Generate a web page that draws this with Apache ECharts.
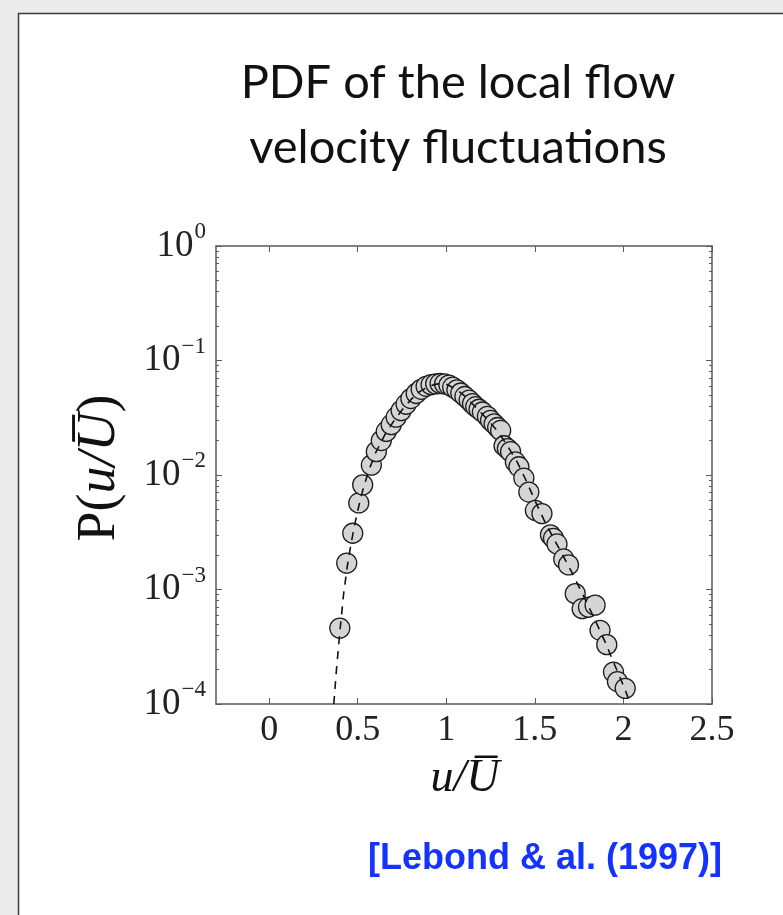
<!DOCTYPE html>
<html>
<head>
<meta charset="utf-8">
<script src="https://cdn.jsdelivr.net/npm/echarts@6/dist/echarts.min.js"></script>
<style>
  html, body { margin: 0; padding: 0; background: #ebebeb; }
  #chart { width: 783px; height: 915px; }
</style>
</head>
<body>
<div id="chart"></div>
<script>
// Measured PDF of the normalised local velocity u / U-bar
const velocityRatio = [
  0.399, 0.438, 0.472, 0.506, 0.528, 0.577, 0.605, 0.633, 0.661, 0.689,
  0.717, 0.745, 0.773, 0.800, 0.830, 0.858, 0.886, 0.914, 0.940, 0.965,
  0.990, 1.015, 1.036, 1.060, 1.082, 1.105, 1.129, 1.148, 1.166, 1.185,
  1.204, 1.232, 1.250, 1.270, 1.290, 1.307, 1.326, 1.345, 1.363, 1.390,
  1.410, 1.438, 1.466, 1.503, 1.540, 1.588, 1.605, 1.625, 1.663, 1.690,
  1.728, 1.767, 1.803, 1.840, 1.868, 1.906, 1.944, 1.966, 2.010
];
const probability = [
  4.6e-4, 1.7e-3, 3.1e-3, 5.7e-3, 8.2e-3, 1.22e-2, 1.6e-2, 2.0e-2, 2.4e-2, 2.75e-2,
  3.2e-2, 3.65e-2, 4.15e-2, 4.65e-2, 5.15e-2, 5.6e-2, 5.95e-2, 6.15e-2, 6.25e-2, 6.3e-2,
  6.25e-2, 6.1e-2, 5.85e-2, 5.55e-2, 5.2e-2, 4.85e-2, 4.5e-2, 4.2e-2, 3.95e-2, 3.75e-2,
  3.55e-2, 3.25e-2, 3.0e-2, 2.8e-2, 2.6e-2, 2.45e-2, 1.8e-2, 1.7e-2, 1.6e-2, 1.3e-2,
  1.18e-2, 9.4e-3, 7.1e-3, 4.9e-3, 4.6e-3, 3.0e-3, 2.8e-3, 2.5e-3, 1.85e-3, 1.64e-3,
  9.2e-4, 6.8e-4, 7.0e-4, 7.3e-4, 4.4e-4, 3.3e-4, 1.9e-4, 1.57e-4, 1.37e-4
];

// Fitted distribution (dashed curve)
const fitRatio = [
  0.365, 0.38, 0.40, 0.42, 0.44, 0.46, 0.48, 0.50, 0.53, 0.56,
  0.60, 0.65, 0.70, 0.75, 0.80, 0.85, 0.90, 0.95, 1.00, 1.05,
  1.10, 1.15, 1.20, 1.25, 1.30, 1.35, 1.40, 1.45, 1.50, 1.55,
  1.60, 1.65, 1.70, 1.75, 1.80, 1.85, 1.90, 1.95, 2.00, 2.04
];
const fitProbability = [
  1.0e-4, 2.0e-4, 4.4e-4, 9.0e-4, 1.55e-3, 2.4e-3, 3.5e-3, 4.9e-3, 7.5e-3, 1.07e-2,
  1.55e-2, 2.2e-2, 2.9e-2, 3.7e-2, 4.55e-2, 5.35e-2, 5.95e-2, 6.25e-2, 6.2e-2, 5.7e-2,
  4.95e-2, 4.15e-2, 3.45e-2, 2.85e-2, 2.3e-2, 1.75e-2, 1.3e-2, 9.0e-3, 6.0e-3, 4.1e-3,
  2.9e-3, 2.1e-3, 1.5e-3, 1.05e-3, 7.3e-4, 5.0e-4, 3.4e-4, 2.2e-4, 1.45e-4, 1.0e-4
];

// Axis ticks
const xTickValues = [0, 0.5, 1, 1.5, 2, 2.5];
const yDecades = [1e-4, 1e-3, 1e-2, 1e-1, 1];
const yMinorMultipliers = [2, 3, 4, 5, 6, 7, 8, 9];
const yMinorTicks = [];
yDecades.slice(0, -1).forEach(d => yMinorMultipliers.forEach(k => yMinorTicks.push(k * d)));

const serif = 'Liberation Serif';
const axisColor = '#5a5a5a';

const chart = echarts.init(document.getElementById('chart'), null, { renderer: 'canvas' });

function decadeLabel(v) {
  const e = Math.round(Math.log10(v));
  const s = e < 0 ? '\u2212' + (-e) : String(e);
  return '{b|10}{s|' + s + '}';
}

const gridBox = { left: 216, top: 246, width: 496, height: 458 };

function yAxisBase(extra) {
  return Object.assign({
    type: 'log', logBase: 10, min: 1e-4, max: 1,
    splitLine: { show: false },
    axisLine: { show: false, onZero: false },
    axisLabel: { show: false },
    axisTick: { show: false }
  }, extra);
}

chart.setOption({
  backgroundColor: '#ebebeb',
  animation: false,
  grid: Object.assign({ containLabel: false }, gridBox),
  xAxis: [
    {
      type: 'value', min: -0.3, max: 2.5, position: 'bottom',
      splitLine: { show: false },
      axisLine: { show: true, onZero: false, lineStyle: { color: axisColor, width: 1.5 } },
      axisTick: { show: true, inside: true, length: 6, customValues: xTickValues, lineStyle: { color: axisColor } },
      axisLabel: {
        show: true, customValues: xTickValues, margin: 9,
        fontFamily: serif, fontSize: 36, color: '#222',
        formatter: v => String(v)
      }
    },
    {
      type: 'value', min: -0.3, max: 2.5, position: 'top',
      splitLine: { show: false },
      axisLine: { show: true, onZero: false, lineStyle: { color: axisColor, width: 1.5 } },
      axisTick: { show: true, inside: true, length: 6, customValues: xTickValues, lineStyle: { color: axisColor } },
      axisLabel: { show: false }
    }
  ],
  yAxis: [
    yAxisBase({
      position: 'left',
      axisLine: { show: true, onZero: false, lineStyle: { color: axisColor, width: 1.5 } },
      axisTick: { show: true, inside: true, length: 6, customValues: yDecades, lineStyle: { color: axisColor } },
      axisLabel: {
        show: true, customValues: yDecades, margin: 10,
        formatter: decadeLabel,
        rich: {
          b: { fontFamily: serif, fontSize: 37, color: '#222' },
          s: { fontFamily: serif, fontSize: 23, color: '#222', padding: [0, 0, 28, 1] }
        }
      }
    }),
    yAxisBase({
      position: 'left',
      axisTick: { show: true, inside: true, length: 3, customValues: yMinorTicks, lineStyle: { color: axisColor } }
    }),
    yAxisBase({
      position: 'right',
      axisLine: { show: true, onZero: false, lineStyle: { color: axisColor, width: 1.5 } },
      axisTick: { show: true, inside: true, length: 6, customValues: yDecades, lineStyle: { color: axisColor } }
    }),
    yAxisBase({
      position: 'right',
      axisTick: { show: true, inside: true, length: 3, customValues: yMinorTicks, lineStyle: { color: axisColor } }
    })
  ],
  series: [
    {
      name: 'measured',
      type: 'scatter',
      xAxisIndex: 0, yAxisIndex: 0,
      symbol: 'circle', symbolSize: 20,
      itemStyle: { color: '#d5d5d5', borderColor: '#1e1e1e', borderWidth: 1.3, opacity: 1 },
      data: velocityRatio.map((x, i) => [x, probability[i]]),
      z: 2
    },
    {
      name: 'fit',
      type: 'line',
      xAxisIndex: 0, yAxisIndex: 0,
      showSymbol: false, symbol: 'none',
      clip: true,
      lineStyle: { color: '#111', width: 1.6, type: [8, 7] },
      data: fitRatio.map((x, i) => [x, fitProbability[i]]),
      z: 3
    }
  ],
  graphic: [
    {
      type: 'rect', z: -10, silent: true,
      shape: { x: 18.5, y: 13.5, width: 800, height: 950 },
      style: { fill: '#ffffff', stroke: '#3a3a3a', lineWidth: 1.5 }
    },
    {
      type: 'text', silent: true,
      x: 458, y: 50,
      style: {
        text: 'PDF of the local flow\nvelocity fluctuations',
        fontFamily: 'Lato', fontSize: 47, lineHeight: 65,
        fill: '#111', align: 'center', verticalAlign: 'top'
      }
    },
    {
      type: 'text', silent: true,
      x: 100, y: 468, rotation: Math.PI / 2,
      style: {
        text: '{n|P(}{i|u/U\u0305}{n|)}',
        align: 'center', verticalAlign: 'middle',
        rich: {
          n: { fontFamily: serif, fontSize: 54, fill: '#111' },
          i: { fontFamily: serif, fontSize: 54, fontStyle: 'italic', fill: '#111' }
        }
      }
    },
    {
      type: 'text', silent: true,
      x: 465, y: 779,
      style: {
        text: 'u/U\u0305',
        fontFamily: serif, fontSize: 46, fontStyle: 'italic',
        fill: '#111', align: 'center', verticalAlign: 'middle'
      }
    },
    {
      type: 'text', silent: true,
      x: 545, y: 859,
      style: {
        text: '[Lebond & al. (1997)]',
        fontFamily: 'Liberation Sans', fontSize: 36, fontWeight: 'bold',
        fill: '#1533ff', align: 'center', verticalAlign: 'middle'
      }
    }
  ]
});
</script>
</body>
</html>
